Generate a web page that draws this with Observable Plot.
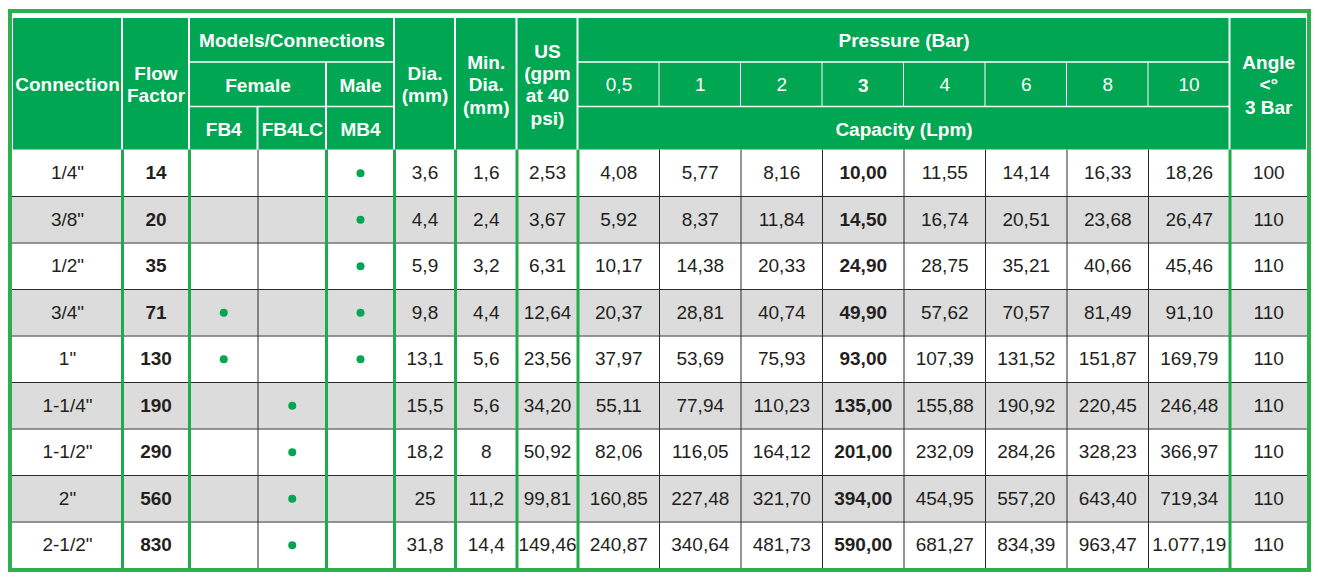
<!DOCTYPE html>
<html><head><meta charset="utf-8">
<script src="https://cdn.jsdelivr.net/npm/d3@7"></script>
<script src="https://cdn.jsdelivr.net/npm/@observablehq/plot@0.6"></script>
<style>html,body{margin:0;padding:0;background:#fff;}</style>
</head><body><div id="chart"></div>
<script>
// ---------- DATA ----------
const connections = ['1/4"', '3/8"', '1/2"', '3/4"', '1"', '1-1/4"', '1-1/2"', '2"', '2-1/2"'];
const flowFactor = [14, 20, 35, 71, 130, 190, 290, 560, 830];
const fb4   = [0, 0, 0, 1, 1, 0, 0, 0, 0];
const fb4lc = [0, 0, 0, 0, 0, 1, 1, 1, 1];
const mb4   = [1, 1, 1, 1, 1, 0, 0, 0, 0];
const dia    = [3.6, 4.4, 5.9, 9.8, 13.1, 15.5, 18.2, 25, 31.8];
const minDia = [1.6, 2.4, 3.2, 4.4, 5.6, 5.6, 8, 11.2, 14.4];
const usGpm  = [2.53, 3.67, 6.31, 12.64, 23.56, 34.20, 50.92, 99.81, 149.46];
const pressures = ["0,5", "1", "2", "3", "4", "6", "8", "10"];
const cap05 = [4.08, 5.92, 10.17, 20.37, 37.97, 55.11, 82.06, 160.85, 240.87];
const cap1  = [5.77, 8.37, 14.38, 28.81, 53.69, 77.94, 116.05, 227.48, 340.64];
const cap2  = [8.16, 11.84, 20.33, 40.74, 75.93, 110.23, 164.12, 321.70, 481.73];
const cap3  = [10.00, 14.50, 24.90, 49.90, 93.00, 135.00, 201.00, 394.00, 590.00];
const cap4  = [11.55, 16.74, 28.75, 57.62, 107.39, 155.88, 232.09, 454.95, 681.27];
const cap6  = [14.14, 20.51, 35.21, 70.57, 131.52, 190.92, 284.26, 557.20, 834.39];
const cap8  = [16.33, 23.68, 40.66, 81.49, 151.87, 220.45, 328.23, 643.40, 963.47];
const cap10 = [18.26, 26.47, 45.46, 91.10, 169.79, 246.48, 366.97, 719.34, 1077.19];
const angle = [100, 110, 110, 110, 110, 110, 110, 110, 110];
const headerSpans = ["Connection", "Flow\nFactor", "Models/Connections", "Female", "Male", "FB4", "FB4LC", "MB4",
  "Dia.\n(mm)", "Min.\nDia.\n(mm)", "US\n(gpm\nat 40\npsi)", "Pressure (Bar)", "Capacity (Lpm)", "Angle\n<°\n3 Bar"];

// ---------- LAYOUT ----------
const W = 1318, H = 579;
const GREEN = "#00a651", FRAME = "#2bb04b", LINE = "#1faa4c", GRAY = "#dcdcdc", INK = "#231f20";
const left = 12;
const colWidths = [110, 67, 68.5, 68.5, 68, 61, 61.5, 61, 81.5, 81.5, 81.5, 81.5, 81.5, 81.5, 81.5, 81.5, 77.5];
const edges = [left];
colWidths.forEach(w => edges.push(edges[edges.length - 1] + w));
const right = edges[edges.length - 1];
const hy = [17, 62, 106.5, 149.5];
const rowH = 46.5;
const nRows = connections.length;
const by = d3.range(nRows + 1).map(i => hy[3] + i * rowH);
const cx = c => (edges[c] + edges[c + 1]) / 2;
const cy = r => (by[r] + by[r + 1]) / 2;

const capacity = [cap05, cap1, cap2, cap3, cap4, cap6, cap8, cap10];
const fmt = d3.formatLocale({decimal: ",", thousands: ".", grouping: [3], currency: ["", ""]});
const f2 = fmt.format(",.2f");
const f1 = v => Number.isInteger(v) ? String(v) : fmt.format(".1f")(v);

// header cells: [labelIndex/text, c0, c1, r0, r1, bold]
const hcells = [
  [headerSpans[0], 0, 1, 0, 3, true],
  [headerSpans[1], 1, 2, 0, 3, true],
  [headerSpans[2], 2, 5, 0, 1, true],
  [headerSpans[3], 2, 4, 1, 2, true],
  [headerSpans[4], 4, 5, 1, 2, true],
  [headerSpans[5], 2, 3, 2, 3, true],
  [headerSpans[6], 3, 4, 2, 3, true],
  [headerSpans[7], 4, 5, 2, 3, true],
  [headerSpans[8], 5, 6, 0, 3, true],
  [headerSpans[9], 6, 7, 0, 3, true],
  [headerSpans[10], 7, 8, 0, 3, true],
  [headerSpans[11], 8, 16, 0, 1, true],
  ...pressures.map((p, i) => [p, 8 + i, 9 + i, 1, 2, p === "3"]),
  [headerSpans[12], 8, 16, 2, 3, true],
  [headerSpans[13], 16, 17, 0, 3, true]
].map(([text, c0, c1, r0, r1, bold]) => {
  const thinL = r0 === 1 && c0 > 8 && c0 < 16, thinR = r0 === 1 && c1 > 8 && c1 < 16;
  return {
    text, bold,
    x1: edges[c0] + (thinL ? 0.5 : 1),
    x2: edges[c1] - (thinR ? 0.5 : 1),
    y1: hy[r0] + (r0 === 0 ? 1 : 0.75),
    y2: hy[r1] - (r1 === 3 ? 0 : 0.75)
  };
});

// body cells
const bodyText = [], dots = [];
for (let r = 0; r < nRows; r++) {
  bodyText.push({r, c: 0, t: connections[r], b: false});
  bodyText.push({r, c: 1, t: String(flowFactor[r]), b: true});
  [fb4, fb4lc, mb4].forEach((arr, k) => { if (arr[r]) dots.push({r, c: 2 + k}); });
  bodyText.push({r, c: 5, t: f1(dia[r]), b: false});
  bodyText.push({r, c: 6, t: f1(minDia[r]), b: false});
  bodyText.push({r, c: 7, t: f2(usGpm[r]), b: false});
  capacity.forEach((arr, j) => bodyText.push({r, c: 8 + j, t: f2(arr[r]), b: j === 3}));
  bodyText.push({r, c: 16, t: String(angle[r]), b: false});
}
const greenEdges = [1, 2, 4, 5, 6, 7, 8, 16];
const thinEdges = [3, 9, 10, 11, 12, 13, 14, 15];

const chart = Plot.plot({
  width: W, height: H, margin: 0,
  x: {type: "linear", domain: [0, W], range: [0, W], axis: null},
  y: {type: "linear", domain: [0, H], range: [0, H], axis: null},
  style: {fontFamily: "'Liberation Sans', Arial, Helvetica, sans-serif", background: "#fff"},
  marks: [
    // body row backgrounds
    Plot.rect(d3.range(nRows), {x1: left, x2: right, y1: r => by[r], y2: r => by[r + 1], fill: r => r % 2 ? GRAY : "#ffffff"}),
    // horizontal row lines
    Plot.ruleY(d3.range(1, nRows), {y: r => by[r], x1: left, x2: right, stroke: "#2a2a2a", strokeWidth: 1}),
    // thin vertical lines
    Plot.ruleX(thinEdges, {x: e => edges[e], y1: by[0], y2: by[nRows], stroke: "#2a2a2a", strokeWidth: 1}),
    // green vertical lines
    Plot.ruleX(greenEdges, {x: e => edges[e], y1: by[0], y2: by[nRows], stroke: LINE, strokeWidth: 3}),
    // header cells
    Plot.rect(hcells, {x1: "x1", x2: "x2", y1: "y1", y2: "y2", fill: GREEN}),
    Plot.text(hcells.filter(d => d.bold), {x: d => (d.x1 + d.x2) / 2, y: d => (d.y1 + d.y2) / 2, text: "text", fill: "white", fontSize: 19, fontWeight: "bold", lineHeight: 1.17}),
    Plot.text(hcells.filter(d => !d.bold), {x: d => (d.x1 + d.x2) / 2, y: d => (d.y1 + d.y2) / 2, text: "text", fill: "white", fontSize: 19, fontWeight: "normal"}),
    // body text
    Plot.text(bodyText.filter(d => !d.b), {x: d => cx(d.c), y: d => cy(d.r), text: "t", fill: INK, fontSize: 19}),
    Plot.text(bodyText.filter(d => d.b), {x: d => cx(d.c), y: d => cy(d.r), text: "t", fill: INK, fontSize: 19, fontWeight: "bold"}),
    // dots
    Plot.dot(dots, {x: d => cx(d.c), y: d => cy(d.r), r: 4, fill: GREEN, stroke: "none"}),
    // outer frame
    Plot.rect([0], {x1: left - 2, x2: right + 2, y1: 11, y2: by[nRows] + 2, fill: "none", stroke: FRAME, strokeWidth: 4})
  ]
});
document.getElementById("chart").appendChild(chart);
</script>
</body></html>
